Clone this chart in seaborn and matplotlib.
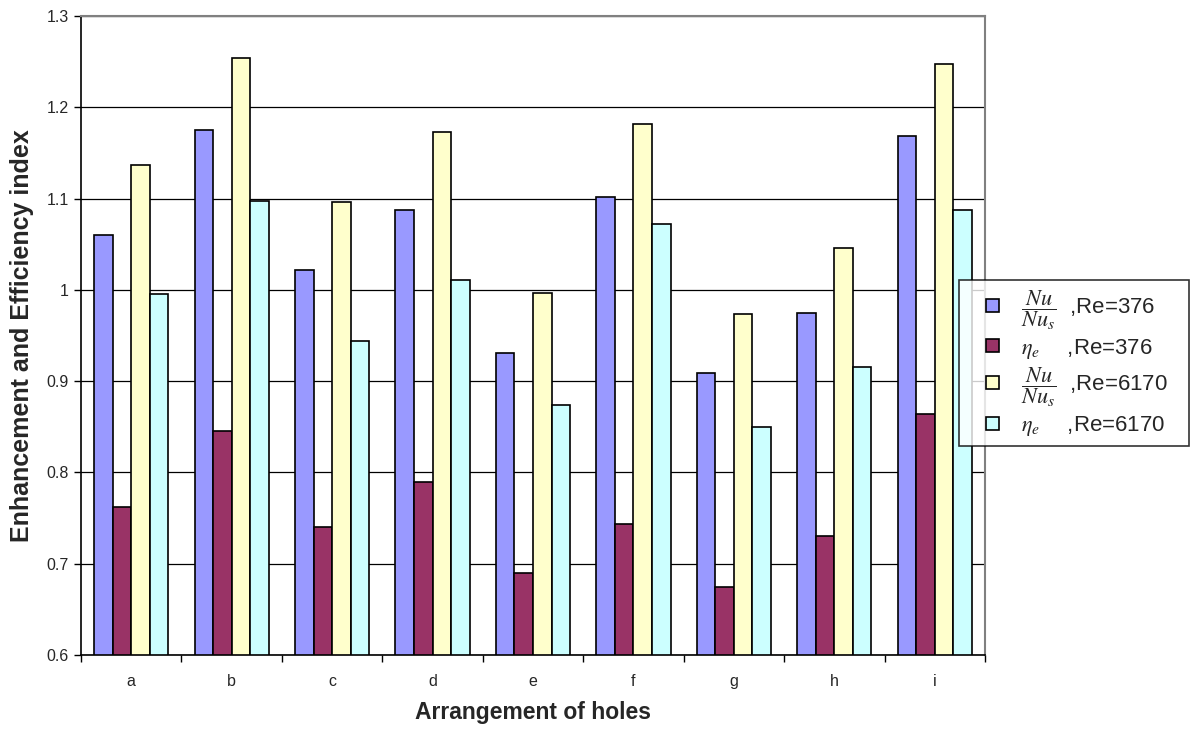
import matplotlib
matplotlib.use("Agg")
import matplotlib.pyplot as plt
import seaborn as sns
import pandas as pd
from matplotlib.ticker import FixedLocator, FormatStrFormatter
from matplotlib.patches import Patch, Rectangle
from matplotlib.legend_handler import HandlerPatch

categories = ["a", "b", "c", "d", "e", "f", "g", "h", "i"]
nu_376 = [1.060, 1.175, 1.022, 1.088, 0.931, 1.102, 0.909, 0.975, 1.169]
eta_376 = [0.762, 0.845, 0.740, 0.789, 0.690, 0.743, 0.674, 0.730, 0.864]
nu_6170 = [1.137, 1.254, 1.096, 1.173, 0.997, 1.182, 0.974, 1.046, 1.247]
eta_6170 = [0.996, 1.097, 0.944, 1.011, 0.874, 1.072, 0.850, 0.915, 1.087]

series_labels = [
    r"$\dfrac{Nu}{Nu_s}$  ,Re=376   ",
    r"$\eta_e\,$    ,Re=376   ",
    r"$\dfrac{Nu}{Nu_s}$  ,Re=6170   ",
    r"$\eta_e\,$    ,Re=6170   ",
]
colors = ["#9999FF", "#993366", "#FFFFCC", "#CCFFFF"]

rows = []
for lab, vals in zip(series_labels, [nu_376, eta_376, nu_6170, eta_6170]):
    for c, v in zip(categories, vals):
        rows.append({"cat": c, "series": lab, "value": v})
df = pd.DataFrame(rows)

sns.set_theme(style="white")
plt.rcParams["font.family"] = ["Liberation Sans", "DejaVu Sans"]
plt.rcParams["mathtext.fontset"] = "stix"

fig = plt.figure(figsize=(11.99, 7.31), dpi=100)
ax = fig.add_axes([81 / 1199, 1 - 655 / 731, (985 - 81) / 1199, (655 - 16) / 731])

ax.set_axisbelow(True)
ax.yaxis.grid(True, color="black", linewidth=0.9)
ax.xaxis.grid(False)

sns.barplot(data=df, x="cat", y="value", hue="series", order=categories,
            hue_order=series_labels, palette=colors, width=0.74, gap=0,
            edgecolor="black", linewidth=1.2, saturation=1, ax=ax, legend=False)

ax.set_ylim(0.6, 1.3)
ax.set_xlim(-0.5, len(categories) - 0.5)
ax.set_yticks([0.6, 0.7, 0.8, 0.9, 1.0, 1.1, 1.2, 1.3])
ax.yaxis.set_major_formatter(FormatStrFormatter("%g"))
ax.tick_params(axis="y", which="major", direction="out", length=5, width=1,
               color="black", labelsize=11.5, left=True, pad=4)
ax.tick_params(axis="x", which="major", length=0, labelsize=11.5, pad=14)
ax.xaxis.set_minor_locator(FixedLocator([k - 0.5 for k in range(len(categories) + 1)]))
ax.tick_params(axis="x", which="minor", direction="out", length=5, width=1,
               color="black", bottom=True)

for s in ["left", "bottom"]:
    ax.spines[s].set_color("black")
    ax.spines[s].set_linewidth(1.2)
for s in ["top", "right"]:
    ax.spines[s].set_color("#808080")
    ax.spines[s].set_linewidth(1.5)
    ax.spines[s].set_visible(True)

ax.set_xlabel("Arrangement of holes", fontsize=16.5, fontweight="bold", labelpad=8)
ax.set_ylabel("Enhancement and Efficiency index", fontsize=18, fontweight="bold", labelpad=9)


def square_patch(legend, orig_handle, xdescent, ydescent, width, height, fontsize):
    side = 13.0 * 72 / 100
    return Rectangle((width - side - xdescent, (height - side) / 2 - ydescent), side, side)


handles = [Patch(facecolor=c, edgecolor="black", linewidth=1.2) for c in colors]
leg = fig.legend(handles, series_labels, loc="upper left",
                 bbox_to_anchor=(959 / 1199, 1 - 280 / 731), fontsize=16,
                 frameon=True, fancybox=False, edgecolor="black",
                 handlelength=1.45, handleheight=0.8, labelspacing=0.22,
                 handletextpad=1.0, borderpad=0.35, borderaxespad=0,
                 handler_map={Patch: HandlerPatch(patch_func=square_patch)})
leg.get_frame().set_linewidth(1.2)

fig.savefig("out.png", dpi=100, facecolor="white")
